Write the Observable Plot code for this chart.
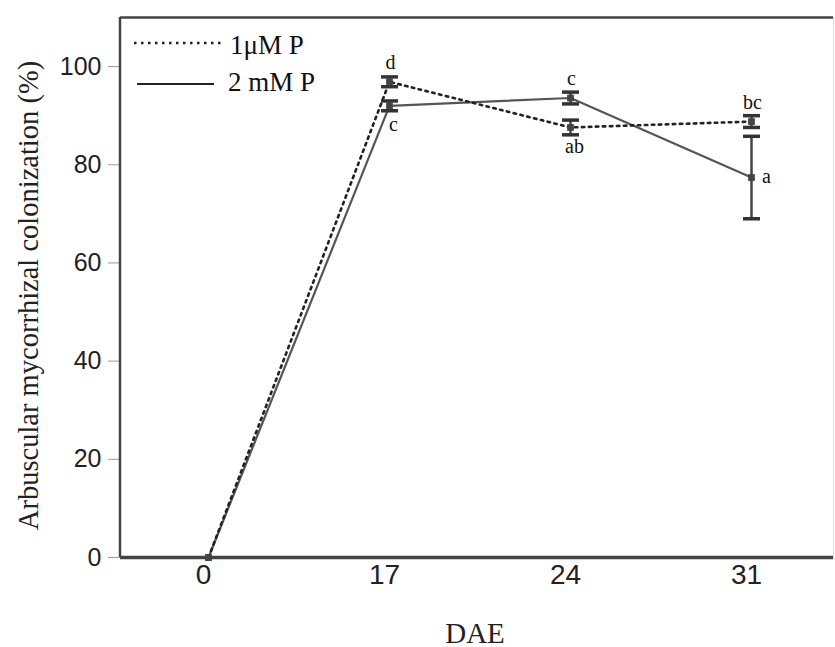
<!DOCTYPE html>
<html>
<head>
<meta charset="utf-8">
<script src="https://cdn.jsdelivr.net/npm/d3@7"></script>
<script src="https://cdn.jsdelivr.net/npm/@observablehq/plot@0.6"></script>
<style>
  html, body { margin: 0; padding: 0; background: #fff; }
  #chart svg { display: block; }
</style>
</head>
<body>
<div id="chart"></div>
<script>
// ---- data ----
const days = ["0", "17", "24", "31"];
const seriesNames = ["1\u03bcM P", "2 mM P"];
const lowP = [0, 96.9, 87.6, 88.8];        // 1 μM P (dotted)
const lowPErr = [0, 1.0, 1.5, 1.2];
const lowPLetters = ["", "d", "ab", "bc"];
const highP = [0, 92.0, 93.6, 77.4];       // 2 mM P (solid)
const highPErr = [0, 1.0, 1.2, 8.4];
const highPLetters = ["", "c", "c", "a"];
const yTicks = [0, 20, 40, 60, 80, 100];

// letter placement (style only)
const lowPPlace = ["", "above", "below", "above"];
const highPPlace = ["", "below", "above", "right"];

const rows = [];
days.forEach((d, i) => {
  rows.push({series: seriesNames[0], day: d, v: lowP[i], e: lowPErr[i], letter: lowPLetters[i], place: lowPPlace[i]});
  rows.push({series: seriesNames[1], day: d, v: highP[i], e: highPErr[i], letter: highPLetters[i], place: highPPlace[i]});
});
const low = rows.filter(r => r.series === seriesNames[0]);
const high = rows.filter(r => r.series === seriesNames[1]);
const errRows = rows.filter(r => r.e > 0);

const cap = {draw(ctx, size) { const w = Math.sqrt(size / Math.PI); ctx.moveTo(-w, 0); ctx.lineTo(w, 0); }};

const serif = "Liberation Serif, Times New Roman, serif";
const sans = "Liberation Sans, Arial, sans-serif";

const letterStyle = {fontFamily: serif, fontSize: 20, fill: "#111", x: "day", y: "v", text: "letter"};

const plot = Plot.plot({
  width: 835,
  height: 647,
  marginLeft: 120,
  marginRight: 2,
  marginTop: 17,
  marginBottom: 90,
  style: {background: "#fff", color: "#222"},
  x: {type: "point", domain: days, range: [207, 752], padding: 0},
  y: {domain: [0, 110]},
  marks: [
    Plot.frame({stroke: "#ddd", strokeWidth: 1}),
    Plot.axisY({ticks: yTicks, tickSize: 12, tickPadding: 7, stroke: "#999", fontSize: 25, fontFamily: sans, fill: "#222", label: null}),
    Plot.axisX({tickSize: 0, tickPadding: 7, dx: -5, fontSize: 28, fontFamily: sans, fill: "#222", label: null}),
    Plot.ruleY([110], {stroke: "#444", strokeWidth: 2.5}),
    Plot.ruleY([0], {stroke: "#444", strokeWidth: 3.5}),
    Plot.line(high, {x: "day", y: "v", stroke: "#555", strokeWidth: 2.2}),
    Plot.line(low, {x: "day", y: "v", stroke: "#222", strokeWidth: 2.6, strokeDasharray: "2.5,4.5"}),
    Plot.ruleX(errRows, {x: "day", y1: d => d.v - d.e, y2: d => d.v + d.e, stroke: "#444", strokeWidth: 2.5}),
    Plot.dot(errRows, {x: "day", y: d => d.v + d.e, symbol: cap, r: 8.5, stroke: "#333", strokeWidth: 3.5}),
    Plot.dot(errRows, {x: "day", y: d => d.v - d.e, symbol: cap, r: 8.5, stroke: "#333", strokeWidth: 3.5}),
    Plot.dot(rows, {x: "day", y: "v", symbol: "square", r: 3.8, fill: "#444"}),
    Plot.text(rows.filter(r => r.place === "above"), {...letterStyle, dy: -19, dx: 1}),
    Plot.text(rows.filter(r => r.place === "below"), {...letterStyle, dy: 19, dx: 4}),
    Plot.text(rows.filter(r => r.place === "right"), {...letterStyle, dx: 15, dy: -1}),
    Plot.text(["Arbuscular mycorrhizal colonization (%)"], {frameAnchor: "left", textAnchor: "middle", dx: -92, dy: 8, rotate: -90, fontFamily: serif, fontSize: 28.5, fill: "#222"}),
    Plot.text(["DAE"], {frameAnchor: "bottom", textAnchor: "middle", dx: -2, dy: 85, fontFamily: serif, fontSize: 29, fill: "#222"})
  ]
});

const svg = d3.select(plot);
document.getElementById("chart").appendChild(plot);

// left frame edge
const ys = plot.scale("y");
svg.append("line")
  .attr("x1", 120).attr("x2", 120)
  .attr("y1", ys.apply(110)).attr("y2", ys.apply(0))
  .attr("stroke", "#444").attr("stroke-width", 2.5);

// legend
const lg = svg.append("g").attr("font-family", serif).attr("font-size", 27).attr("fill", "#111").attr("text-anchor", "start");
lg.append("line").attr("x1", 134).attr("x2", 221).attr("y1", 43).attr("y2", 43)
  .attr("stroke", "#222").attr("stroke-width", 2.6).attr("stroke-dasharray", "2.5,4.5");
lg.append("text").attr("x", 230).attr("y", 45).attr("dy", "0.35em").text(seriesNames[0]);
lg.append("line").attr("x1", 137).attr("x2", 214).attr("y1", 84).attr("y2", 84)
  .attr("stroke", "#222").attr("stroke-width", 2.2);
lg.append("text").attr("x", 228).attr("y", 82).attr("dy", "0.35em").text(seriesNames[1]);
</script>
</body>
</html>
